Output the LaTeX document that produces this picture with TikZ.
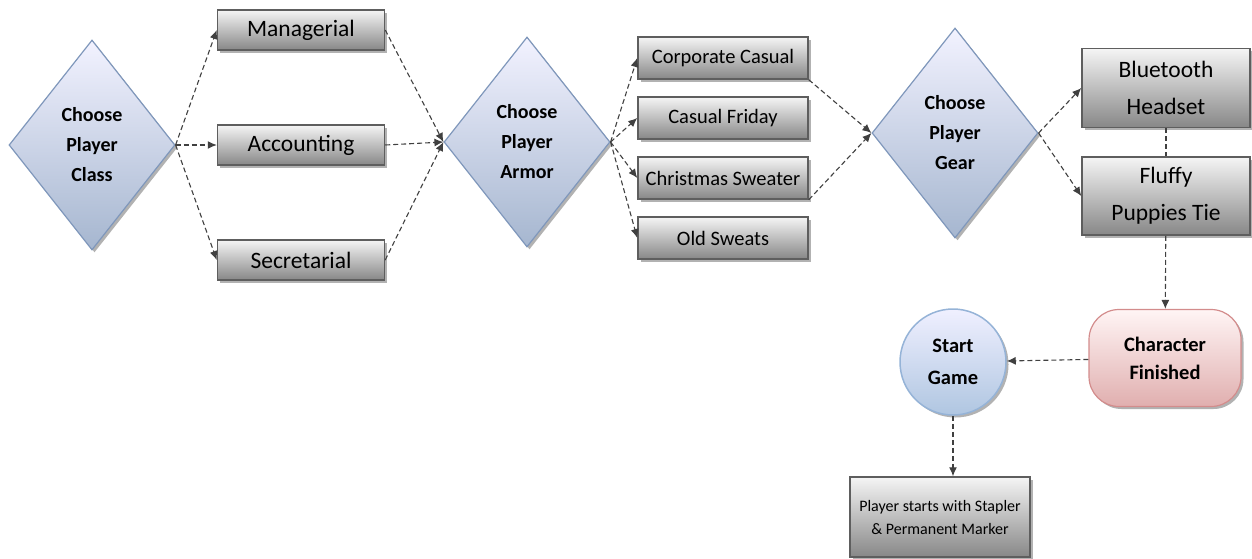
\documentclass[tikz,border=0pt]{standalone}
\usepackage{fontspec}
\setmainfont{Carlito}
\usetikzlibrary{arrows.meta,shapes.geometric,shadows}
\definecolor{linkgrey}{HTML}{404040}
\definecolor{boxline}{HTML}{5E5E5E}
\definecolor{decline}{HTML}{7F97BB}
\definecolor{startline}{HTML}{95B3D7}
\definecolor{doneline}{HTML}{D38C8C}

\begin{document}
\begin{tikzpicture}[x=1pt,y=-1pt,-{Latex[length=9pt,width=8pt]},line width=1.1pt]
   \useasboundingbox (0,0) rectangle (1252,558);
   \tikzstyle{link}=[draw=linkgrey, dash pattern=on 5pt off 3pt]
   \tikzstyle{shadowed}=[drop shadow={shadow xshift=2.5pt, shadow yshift=-2.5pt, opacity=0.3, fill=black}]
   \tikzstyle{decide}=[diamond, aspect=0.79, inner sep=0pt, minimum width=166pt, minimum height=210pt,
      draw=decline, line width=1.2pt, top color=white!95!blue, bottom color=decline!70, shadowed,
      align=center, font=\bfseries\fontsize{20}{30}\selectfont]
   \tikzstyle{option}=[rectangle, draw=boxline, line width=1.5pt, top color=white!96!black, bottom color=black!47,
      shadowed, align=center, minimum width=167pt, minimum height=40pt, font=\fontsize{23.5}{37}\selectfont]
   \node[decide] (class) at (92,145) {Choose\\Player\\Class};
   \foreach \i/\word/\y in {managerial/{Managerial}/30,accounting/{Accounting}/145,secretarial/{Secretarial}/260} {
       \node[option] (\i) at (301,\y) {\word};
       \path (class.east) edge[link] (\i.west);
   }
   \node[decide] (armor) at (527,142) {Choose\\Player\\Armor};
   \foreach \i in {managerial,accounting,secretarial}
       \path (\i.east) edge[link] (armor.west);
   \foreach \i/\word/\y in {corporate/{Corporate Casual}/58,casual/{Casual Friday}/118,christmas/{Christmas Sweater}/178,sweats/{Old Sweats}/238} {
       \node[option, minimum width=170pt, minimum height=42pt, font=\fontsize{20.5}{26}\selectfont] (\i) at (723,\y) {\word};
       \path (armor.east) edge[link] (\i.west);
   }
   \node[decide] (gear) at (955,133) {Choose\\Player\\Gear};
   \path (corporate.south east) edge[link] (gear.west);
   \path (christmas.south east) edge[link] (gear.west);
   \node[option, minimum width=168pt, minimum height=79pt] (bluetooth) at (1166,88) {Bluetooth\\Headset};
   \node[option, minimum width=168pt, minimum height=78pt] (fluffy) at (1166,196) {Fluffy\\Puppies Tie};
   \path (gear.east) edge[link] (bluetooth.west);
   \path (gear.east) edge[link] (fluffy.west);
   \path (bluetooth) edge[link,-] (fluffy);
   \node[rectangle, rounded corners=30pt, draw=doneline, line width=1.2pt, top color=white!96!red, bottom color=doneline!70,
      shadowed, minimum width=152pt, minimum height=97pt, align=center,
      font=\bfseries\fontsize{20.5}{28}\selectfont] (finished) at (1165,358) {Character\\Finished};
   \path (fluffy) edge[link] (finished);
   \node[circle, draw=startline, line width=1.5pt, top color=white!94!blue, bottom color=startline!75, shadowed,
      minimum size=106pt, inner sep=0pt, align=center,
      font=\bfseries\fontsize{20.5}{32}\selectfont] (start) at (953,362) {Start\\Game};
   \path (finished) edge[link] (start);
   \node[option, minimum width=180pt, minimum height=80pt, font=\fontsize{16}{23}\selectfont] (stapler) at (940,517)
      {Player starts with Stapler\\\& Permanent Marker};
   \path (start.south) edge[link] (start.south |- stapler.north);
\end{tikzpicture}
\end{document}
